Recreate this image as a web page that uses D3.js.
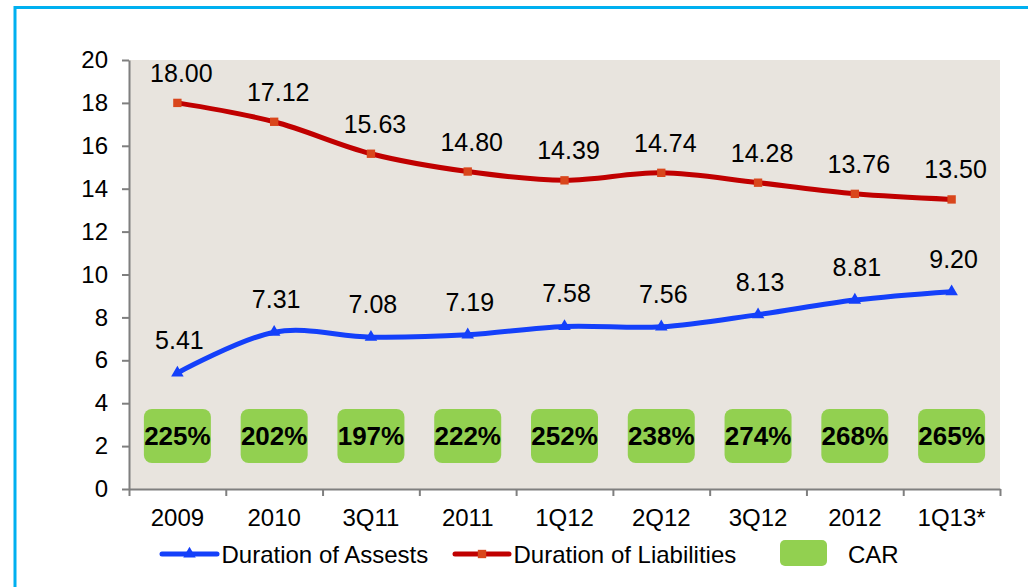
<!DOCTYPE html>
<html>
<head>
<meta charset="utf-8">
<script src="https://cdn.jsdelivr.net/npm/d3@7"></script>
<style>
  html, body { margin: 0; padding: 0; background: #ffffff; }
  svg { display: block; font-family: "Liberation Sans", Arial, sans-serif; }
</style>
</head>
<body>
<svg id="chart" width="1028" height="587"></svg>
<script>
// Periods on the category axis
const categories = ["2009", "2010", "3Q11", "2011", "1Q12", "2Q12", "3Q12", "2012", "1Q13*"];
// Duration of assets (years)
const assets = [5.41, 7.31, 7.08, 7.19, 7.58, 7.56, 8.13, 8.81, 9.20];
// Duration of liabilities (years)
const liabilities = [18.00, 17.12, 15.63, 14.80, 14.39, 14.74, 14.28, 13.76, 13.50];
// Capital adequacy ratio (%)
const car = [225, 202, 197, 222, 252, 238, 274, 268, 265];
// Value axis ticks
const yTicks = [0, 2, 4, 6, 8, 10, 12, 14, 16, 18, 20];

const BLUE = "#1440FA";
const RED = "#C00000";
const RED_MARK = "#D9461C";
const GREEN = "#92D050";
const AXIS = "#7F7F7F";

const svg = d3.select("#chart");

// Outer frame
svg.append("rect")
  .attr("x", 15).attr("y", 7.5)
  .attr("width", 1100).attr("height", 700)
  .attr("fill", "none")
  .attr("stroke", "#00B0F0")
  .attr("stroke-width", 3);

const plot = { left: 129, right: 1000, top: 60, bottom: 489 };

const x = d3.scaleBand().domain(categories).range([plot.left, plot.right]);
const cx = d => x(d) + x.bandwidth() / 2;
const y = d3.scaleLinear().domain([0, 20]).range([plot.bottom, plot.top]);

// Plot background
svg.append("rect")
  .attr("x", plot.left).attr("y", plot.top)
  .attr("width", plot.right - plot.left)
  .attr("height", plot.bottom - plot.top)
  .attr("fill", "#E8E4DE");

// Y axis
const yAxis = svg.append("g")
  .attr("transform", `translate(${plot.left},0)`)
  .call(d3.axisLeft(y).tickValues(yTicks).tickSize(7).tickSizeOuter(0).tickPadding(14));
yAxis.select(".domain").attr("stroke", AXIS).attr("stroke-width", 2);
yAxis.selectAll(".tick line").attr("stroke", AXIS).attr("stroke-width", 2);
yAxis.selectAll(".tick text").attr("font-size", 24).attr("fill", "#000")
  .attr("font-family", "Liberation Sans, Arial, sans-serif");

// X axis: boundary ticks between categories
const xb = d3.scaleLinear().domain([0, categories.length]).range([plot.left, plot.right]);
const xTicks = svg.append("g")
  .attr("transform", `translate(0,${plot.bottom})`)
  .call(d3.axisBottom(xb).tickValues(d3.range(categories.length + 1)).tickFormat("").tickSize(7).tickSizeOuter(0));
xTicks.select(".domain").attr("stroke", AXIS).attr("stroke-width", 2);
xTicks.selectAll(".tick line").attr("stroke", AXIS).attr("stroke-width", 2);

// X axis: category labels
const xAxis = svg.append("g")
  .attr("transform", `translate(0,${plot.bottom})`)
  .call(d3.axisBottom(x).tickSize(0).tickPadding(20));
xAxis.select(".domain").remove();
xAxis.selectAll(".tick text").attr("font-size", 24).attr("fill", "#000")
  .attr("font-family", "Liberation Sans, Arial, sans-serif");

// CAR boxes
const carBoxW = 67, carBoxH = 54, carCenter = 2.47;
const carG = svg.append("g").selectAll("g").data(categories).join("g");
carG.append("rect")
  .attr("x", d => cx(d) - carBoxW / 2)
  .attr("y", y(carCenter) - carBoxH / 2)
  .attr("width", carBoxW).attr("height", carBoxH)
  .attr("rx", 8).attr("ry", 8)
  .attr("fill", GREEN);
carG.append("text")
  .attr("x", d => cx(d))
  .attr("y", y(carCenter))
  .attr("dy", "0.36em")
  .attr("text-anchor", "middle")
  .attr("font-size", 26).attr("font-weight", "bold").attr("fill", "#000")
  .text((d, i) => car[i] + "%");

// Smoothed series lines
const line = d3.line()
  .x((d, i) => cx(categories[i]))
  .y(d => y(d))
  .curve(d3.curveCardinal.tension(0));

svg.append("path").datum(liabilities)
  .attr("d", line).attr("fill", "none")
  .attr("stroke", RED).attr("stroke-width", 5).attr("stroke-linecap", "round");
svg.append("path").datum(assets)
  .attr("d", line).attr("fill", "none")
  .attr("stroke", BLUE).attr("stroke-width", 5).attr("stroke-linecap", "round");

// Markers
const square = d3.symbol().type(d3.symbolSquare).size(70);
const tri = d3.symbol().type(d3.symbolTriangle).size(68);

svg.append("g").selectAll("path").data(liabilities).join("path")
  .attr("d", square)
  .attr("transform", (d, i) => `translate(${cx(categories[i])},${y(d)})`)
  .attr("fill", RED_MARK);
svg.append("g").selectAll("path").data(assets).join("path")
  .attr("d", tri)
  .attr("transform", (d, i) => `translate(${cx(categories[i])},${y(d)})`)
  .attr("fill", BLUE);

// Data labels
svg.append("g").selectAll("text").data(liabilities).join("text")
  .attr("x", (d, i) => cx(categories[i]) + 4)
  .attr("y", d => y(d) - 21)
  .attr("text-anchor", "middle")
  .attr("font-size", 25).attr("fill", "#000")
  .text(d => d.toFixed(2));
svg.append("g").selectAll("text").data(assets).join("text")
  .attr("x", (d, i) => cx(categories[i]) + 2)
  .attr("y", d => y(d) - 24)
  .attr("text-anchor", "middle")
  .attr("font-size", 25).attr("fill", "#000")
  .text(d => d.toFixed(2));

// Legend
const legY = 554;
const leg = svg.append("g");
leg.append("line").attr("x1", 162).attr("x2", 217).attr("y1", legY).attr("y2", legY)
  .attr("stroke", BLUE).attr("stroke-width", 5).attr("stroke-linecap", "round");
leg.append("path").attr("d", tri).attr("transform", `translate(189.5,${legY})`).attr("fill", BLUE);
leg.append("text").attr("x", 221.5).attr("y", legY).attr("dy", "0.36em")
  .attr("font-size", 24).attr("fill", "#000").text("Duration of Assests");

leg.append("line").attr("x1", 455).attr("x2", 509).attr("y1", legY).attr("y2", legY)
  .attr("stroke", RED).attr("stroke-width", 5).attr("stroke-linecap", "round");
leg.append("path").attr("d", square).attr("transform", `translate(482,${legY})`).attr("fill", RED_MARK);
leg.append("text").attr("x", 513.5).attr("y", legY).attr("dy", "0.36em")
  .attr("font-size", 24).attr("fill", "#000").text("Duration of Liabilities");

leg.append("rect").attr("x", 780).attr("y", 540).attr("width", 47).attr("height", 26)
  .attr("rx", 5).attr("ry", 5).attr("fill", GREEN);
leg.append("text").attr("x", 848).attr("y", legY).attr("dy", "0.36em")
  .attr("font-size", 24).attr("fill", "#000").text("CAR");
</script>
</body>
</html>
